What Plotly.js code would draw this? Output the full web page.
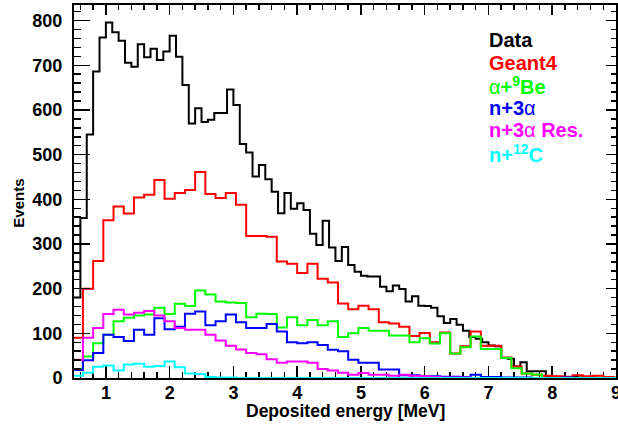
<!DOCTYPE html>
<html>
<head>
<meta charset="utf-8">
<script src="https://cdn.plot.ly/plotly-3.0.1.min.js"></script>
<style>html,body{margin:0;padding:0;background:#fff;}#chart{width:618px;height:427px;}</style>
</head>
<body>
<div id="chart"></div>
<script>
// ---- data ----
const dataStart = 0.5, dataWidth = 0.1;           // measured data binning (MeV)
const dataCounts = [180, 358, 545, 686, 762, 796, 774, 755, 706, 697, 747, 718, 737, 712, 731, 766, 719, 656, 570, 604,
  573, 578, 593, 593, 646, 611, 524, 505, 451, 477, 445, 417, 369, 414, 379, 391, 376, 323, 298, 352,
  292, 262, 293, 253, 238, 229, 227, 227, 204, 194, 207, 199, 171, 183, 162, 161, 157, 138, 123, 132,
  119, 106, 92, 88, 80, 73, 71, 45, 43, 26, 35, 15, 15, 15, 2, 3, 2, 1, 2, 1, 0, 1, 0, 0, 0];

const simStart = 0.48, simWidth = 0.16;           // simulation binning (MeV)
const geant4 = [90, 200, 262, 353, 384, 368, 404, 410, 443, 401, 414, 421, 461, 412, 403, 414, 388, 318, 318, 316,
  261, 256, 235, 256, 222, 214, 167, 154, 162, 154, 125, 122, 115, 94, 101, 80, 102, 55, 71, 104,
  72, 72, 46, 26, 10, 7, 5, 4, 3, 6, 4, 5, 2, 1];
const alpha9Be = [20, 48, 78, 97, 127, 135, 140, 142, 157, 143, 166, 161, 196, 187, 171, 169, 168, 136, 144, 143,
  113, 136, 118, 130, 118, 127, 92, 100, 112, 106, 106, 95, 95, 80, 89, 77, 100, 55, 69, 93,
  65, 65, 45, 22, 10, 8, 0, 0, 0, 0, 0, 0, 0, 0];
const n3alpha = [18, 40, 56, 97, 92, 83, 108, 97, 134, 109, 115, 144, 149, 118, 127, 142, 125, 112, 112, 121,
  104, 80, 78, 80, 74, 63, 60, 41, 34, 34, 19, 19, 6, 6, 4, 4, 3, 3, 2, 7,
  2, 2, 1, 1, 1, 0, 0, 0, 1, 0, 0, 0, 0, 0];
const n3alphaRes = [41, 90, 112, 143, 153, 142, 146, 150, 140, 127, 112, 108, 108, 97, 84, 72, 64, 56, 53, 42,
  34, 37, 37, 34, 20, 17, 12, 7, 11, 7, 7, 5, 7, 5, 4, 2, 1, 1, 1, 0,
  0, 0, 0, 0, 0, 0, 0, 0, 0, 0, 0, 0, 0, 0];
const n12C = [5, 12, 25, 28, 17, 30, 32, 25, 27, 37, 24, 10, 9, 2, 1, 1, 0, 0, 0, 0,
  0, 0, 0, 0, 0, 0, 0, 0, 0, 0, 0, 0, 0, 0, 0, 0, 0, 0, 0, 0,
  0, 0, 0, 0, 0, 0, 0, 0, 0, 0, 0, 0, 0, 0];

const legendLabels = ['Data', 'Geant4', '<span style="font-weight:normal">α</span>+<sup>9</sup>Be',
  'n+3<span style="font-weight:normal">α</span>', 'n+3<span style="font-weight:normal">α</span> Res.', 'n+<sup>12</sup>C'];
const legendColors = ['#000000', '#ff0000', '#00ff00', '#0000ff', '#ff00ff', '#00ffff'];

// ---- build step traces ----
function steps(start, width, vals) {
  const x = [], y = [];
  vals.forEach((v, i) => { x.push(start + i * width); y.push(v); });
  x.push(start + vals.length * width); y.push(vals[vals.length - 1]);
  return {x, y};
}
function hist(start, width, vals, color) {
  const s = steps(start, width, vals);
  return {x: s.x, y: s.y, type: 'scatter', mode: 'lines', line: {shape: 'hv', color: color, width: 2},
          hoverinfo: 'skip', showlegend: false};
}
const overlayCarrier = hist(dataStart, dataWidth, dataCounts, 'rgba(0,0,0,0)');
overlayCarrier.xaxis = 'x2'; overlayCarrier.yaxis = 'y2';
const traces = [
  overlayCarrier,
  hist(dataStart, dataWidth, dataCounts, legendColors[0]),
  hist(simStart, simWidth, geant4, legendColors[1]),
  hist(simStart, simWidth, alpha9Be, legendColors[2]),
  hist(simStart, simWidth, n3alpha, legendColors[3]),
  hist(simStart, simWidth, n3alphaRes, legendColors[4]),
  hist(simStart, simWidth, n12C, legendColors[5])
];

const FONT = 'Liberation Sans, Arial, Helvetica, sans-serif';
const xr = [0.5, 9], yr = [0, 835];
const common = {showgrid: false, zeroline: false, showline: true, linecolor: '#000', linewidth: 2,
                ticks: 'inside', tickcolor: '#000', tickwidth: 1.5, tickmode: 'linear', tick0: 0};

const legendY = [0.906, 0.8445, 0.7855, 0.724, 0.665, 0.603];
const annotations = legendLabels.map((t, i) => ({
  text: t, xref: 'paper', yref: 'paper', x: 0.762, y: legendY[i], xanchor: 'left', yanchor: 'middle',
  showarrow: false, font: {family: FONT, size: 20, color: legendColors[i], weight: 'bold'}
}));
annotations.push({text: 'Deposited energy [MeV]', xref: 'paper', yref: 'paper', x: 0.5, y: -0.0885,
  xanchor: 'center', yanchor: 'middle', showarrow: false, font: {family: FONT, size: 17.5, color: '#000', weight: 'bold'}});
annotations.push({text: 'Events', xref: 'paper', yref: 'paper', x: -0.1015, y: 0.47, textangle: -90,
  xanchor: 'center', yanchor: 'middle', showarrow: false, font: {family: FONT, size: 15, color: '#000', weight: 'bold'}});

const layout = {
  width: 618, height: 427,
  margin: {l: 74, r: 2, t: 5, b: 49, pad: 0},
  paper_bgcolor: '#fff', plot_bgcolor: '#fff',
  showlegend: false,
  xaxis: Object.assign({}, common, {range: xr, dtick: 1, ticklen: 12, ticklabeloverflow: 'allow', layer: 'below traces',
    tickfont: {family: FONT, size: 18, color: '#000', weight: 'bold'}, ticklabelstandoff: -3,
    minor: {ticks: 'inside', ticklen: 6, dtick: 0.2, tick0: 0, tickcolor: '#000', tickwidth: 1.5, showgrid: false}}),
  yaxis: Object.assign({}, common, {range: yr, dtick: 100, ticklen: 16,
    tickfont: {family: FONT, size: 18, color: '#000', weight: 'bold'}, ticklabelstandoff: 6,
    minor: {ticks: 'inside', ticklen: 7, dtick: 20, tick0: 0, tickcolor: '#000', tickwidth: 1.5, showgrid: false}}),
  xaxis2: Object.assign({}, common, {range: xr, overlaying: 'x', side: 'top', anchor: 'y2', dtick: 1,
    ticklen: 10, showticklabels: false,
    minor: {ticks: 'inside', ticklen: 5, dtick: 0.2, tick0: 0, tickcolor: '#000', tickwidth: 1.5, showgrid: false}}),
  yaxis2: Object.assign({}, common, {range: yr, overlaying: 'y', side: 'right', anchor: 'x2', dtick: 100,
    ticklen: 10, showticklabels: false,
    minor: {ticks: 'inside', ticklen: 5, dtick: 20, tick0: 0, tickcolor: '#000', tickwidth: 1.5, showgrid: false}}),
  annotations: annotations
};

Plotly.newPlot('chart', traces, layout, {staticPlot: true, displayModeBar: false});
</script>
</body>
</html>
